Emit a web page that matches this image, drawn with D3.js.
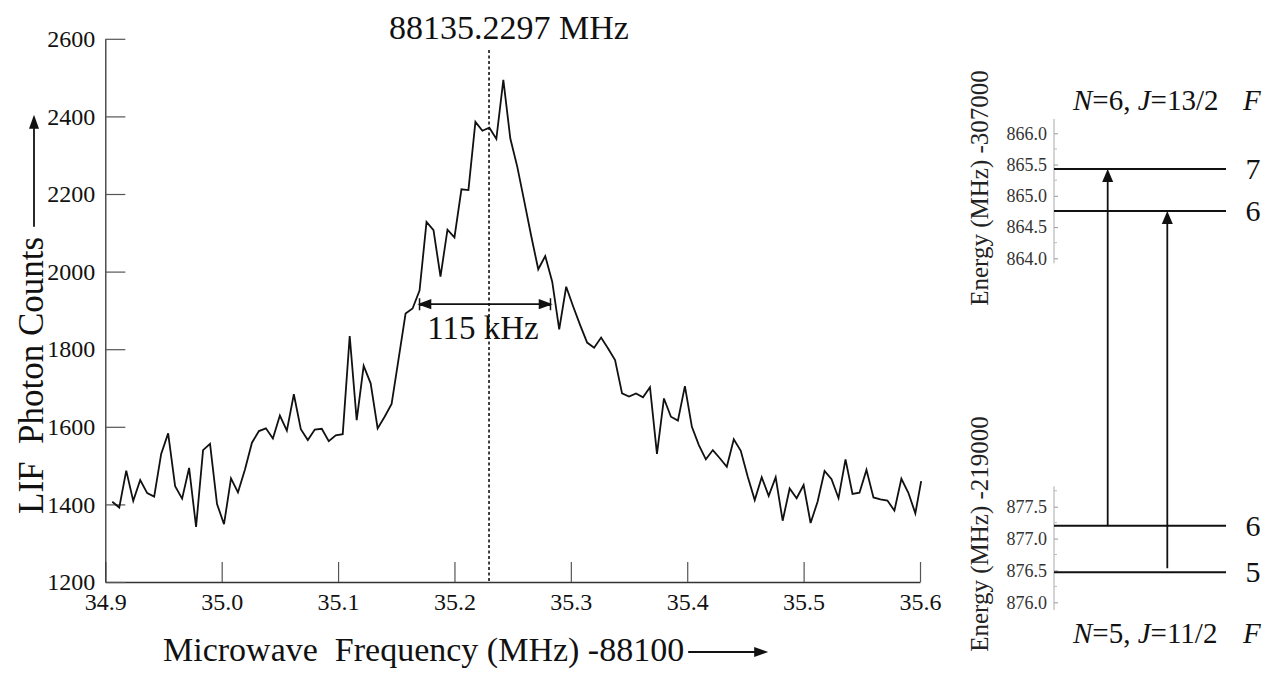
<!DOCTYPE html>
<html><head><meta charset="utf-8">
<script src="https://cdn.jsdelivr.net/npm/d3@7"></script>
<style>
html,body{margin:0;padding:0;background:#fff;}
svg{display:block;}
svg text{font-family:"Liberation Serif","Times New Roman",serif !important;}
</style></head>
<body>
<svg id="chart" width="1266" height="673"></svg>
<script>
// ---------- data ----------
const freq = [34.906,34.912,34.918,34.924,34.930,34.936,34.942,34.948,34.954,34.960,
34.966,34.972,34.978,34.984,34.990,34.996,35.002,35.008,35.014,35.020,
35.026,35.032,35.038,35.044,35.050,35.056,35.062,35.068,35.074,35.080,
35.086,35.092,35.098,35.104,35.110,35.116,35.122,35.128,35.134,35.140,
35.146,35.152,35.158,35.164,35.170,35.176,35.182,35.188,35.194,35.200,
35.206,35.212,35.218,35.224,35.230,35.236,35.242,35.248,35.254,35.260,
35.266,35.272,35.278,35.284,35.290,35.296,35.302,35.308,35.314,35.320,
35.326,35.332,35.338,35.344,35.350,35.356,35.362,35.368,35.374,35.380,
35.386,35.392,35.398,35.404,35.410,35.416,35.422,35.428,35.434,35.440,
35.446,35.452,35.458,35.464,35.470,35.476,35.482,35.488,35.494,35.500,
35.506,35.512,35.518,35.524,35.530,35.536,35.542,35.548,35.554,35.560,
35.566,35.572,35.578,35.584,35.590,35.596,35.601];
const counts = [1407,1392,1487,1409,1463,1429,1420,1530,1583,1447,
1415,1494,1342,1540,1556,1401,1349,1467,1431,1490,
1559,1589,1596,1570,1629,1590,1684,1594,1566,1593,
1595,1563,1578,1581,1834,1617,1757,1712,1596,1626,
1659,1775,1892,1905,1951,2128,2107,1987,2108,2088,
2212,2210,2386,2363,2371,2342,2494,2343,2270,2181,
2091,2006,2040,1974,1851,1961,1910,1862,1817,1804,
1830,1802,1772,1686,1678,1686,1676,1702,1530,1673,
1626,1616,1705,1600,1553,1516,1540,1519,1497,1568,
1538,1471,1411,1470,1422,1470,1358,1441,1416,1450,
1352,1407,1486,1465,1416,1516,1427,1430,1489,1418,
1413,1410,1384,1466,1430,1377,1460];
const xTicks = [34.9,35.0,35.1,35.2,35.3,35.4,35.5,35.6];
const yTicks = [1200,1400,1600,1800,2000,2200,2400,2600];
const centerFreq = 35.2297;
const centerLabel = "88135.2297 MHz";
const fwhm = [35.170, 35.2825];
const fwhmLevel = 1916;
const fwhmLabel = "115 kHz";

const upperTicks = [864.0,864.5,865.0,865.5,866.0];
const upperMinor = [864.25,864.75,865.25,865.75];
const upperLevels = [{F:"7",E:865.43},{F:"6",E:864.755}];
const lowerTicks = [876.0,876.5,877.0,877.5];
const lowerMinor = [876.25,876.75,877.25,877.75];
const lowerLevels = [{F:"6",E:877.20},{F:"5",E:876.47}];
const transitions = [{from:"6",to:"7"},{from:"5",to:"6"}];

// ---------- drawing ----------
const SERIF = '"Liberation Serif", "Times New Roman", serif';
const svg = d3.select("#chart");
const x = d3.scaleLinear([34.9,35.6],[105.3,920]);
const y = d3.scaleLinear([1200,2600],[582,38.8]);

// axes
const gx = svg.append("g").attr("transform",`translate(0,${y(1200)})`)
  .call(d3.axisBottom(x).tickValues(xTicks).tickFormat(d3.format(".1f"))
        .tickSizeInner(-20).tickSizeOuter(0).tickPadding(11));
const gy = svg.append("g").attr("transform",`translate(${x(34.9)},0)`)
  .call(d3.axisLeft(y).tickValues(yTicks).tickFormat(d3.format("d"))
        .tickSizeInner(-20).tickSizeOuter(0).tickPadding(10));
[gx,gy].forEach(g=>{
  g.attr("font-family",SERIF).attr("font-size",24);
  g.select(".domain").attr("stroke","#333").attr("stroke-width",1.3);
  g.selectAll(".tick line").attr("stroke","#555").attr("stroke-width",1.2);
  g.selectAll(".tick text").style("font-family",SERIF).style("font-size","24px").attr("fill","#111");
});

// data line
svg.append("path").datum(freq.map((f,i)=>[f,counts[i]]))
  .attr("fill","none").attr("stroke","#111").attr("stroke-width",1.8)
  .attr("stroke-linejoin","miter")
  .attr("d",d3.line().x(d=>x(d[0])).y(d=>y(d[1])));

// centre dashed line + label
svg.append("line").attr("x1",x(centerFreq)).attr("x2",x(centerFreq))
  .attr("y1",50).attr("y2",y(1200))
  .attr("stroke","#111").attr("stroke-width",1.6).attr("stroke-dasharray","3,2.5");
svg.append("text").attr("x",x(centerFreq)+20).attr("y",39)
  .attr("text-anchor","middle").attr("font-size",34).attr("fill","#111").text(centerLabel);

// FWHM arrow
const ay = y(fwhmLevel), xl = x(fwhm[0]), xr = x(fwhm[1]);
svg.append("line").attr("x1",xl).attr("x2",xr).attr("y1",ay).attr("y2",ay)
  .attr("stroke","#111").attr("stroke-width",1.8);
svg.append("path").attr("fill","#111").attr("stroke","#111").attr("stroke-width",1.5)
  .attr("d",`M${xl},${ay-6}V${ay+6}M${xl},${ay}L${xl+11},${ay-4}L${xl+11},${ay+4}Z
             M${xr},${ay-6}V${ay+6}M${xr},${ay}L${xr-11},${ay-4}L${xr-11},${ay+4}Z`);
svg.append("text").attr("x",(xl+xr)/2-2).attr("y",ay+35).attr("text-anchor","middle")
  .attr("font-size",33).attr("fill","#111").text(fwhmLabel);

// axis titles
const yTitleBottom = 514;
const yt = svg.append("text").attr("transform",`translate(43,${yTitleBottom}) rotate(-90)`)
  .attr("font-size",35).attr("fill","#111").attr("xml:space","preserve").text("LIF  Photon Counts");
const ytLen = yt.node().getComputedTextLength();
{
  const ax = 34, y0 = yTitleBottom-ytLen-10, y1 = y0-112;
  svg.append("line").attr("x1",ax).attr("x2",ax).attr("y1",y0).attr("y2",y1+10)
    .attr("stroke","#111").attr("stroke-width",1.8);
  svg.append("path").attr("fill","#111").attr("d",`M${ax},${y1}L${ax-5},${y1+14}L${ax+5},${y1+14}Z`);
}
const xt = svg.append("text").attr("x",163).attr("y",661)
  .attr("font-size",34).attr("fill","#111").attr("xml:space","preserve").text("Microwave  Frequency (MHz) -88100");
const xtLen = xt.node().getComputedTextLength();
{
  const ay2 = 652, x0 = 163+xtLen+4, x1 = x0+80;
  svg.append("line").attr("x1",x0).attr("x2",x1-10).attr("y1",ay2).attr("y2",ay2)
    .attr("stroke","#111").attr("stroke-width",1.8);
  svg.append("path").attr("fill","#111").attr("d",`M${x1},${ay2}L${x1-14},${ay2-5}L${x1-14},${ay2+5}Z`);
}

// ---------- energy level diagram ----------
const axX = 1054, lvlEnd = 1226;
const yU = d3.scaleLinear([864,866],[258.3,133.3]);
const yL = d3.scaleLinear([876,877.5],[602.3,506.7]);

function energyAxis(scale, ticks, minor, dom){
  const g = svg.append("g").attr("transform",`translate(${axX},0)`);
  g.call(d3.axisLeft(scale).tickValues(ticks).tickFormat(d3.format(".1f"))
     .tickSizeInner(-4).tickSizeOuter(0).tickPadding(7));
  g.attr("font-family",SERIF).attr("font-size",18);
  g.select(".domain").remove();
  g.append("line").attr("x1",0).attr("x2",0).attr("y1",scale(dom[0])).attr("y2",scale(dom[1]))
    .attr("stroke","#aaa").attr("stroke-width",1);
  g.selectAll(".tick line").attr("stroke","#999");
  g.selectAll(".tick text").style("font-family",SERIF).style("font-size","18px").attr("fill","#333");
  g.selectAll(".minor").data(minor).join("line").attr("class","minor")
    .attr("x1",0).attr("x2",3).attr("y1",d=>scale(d)).attr("y2",d=>scale(d))
    .attr("stroke","#bbb");
}
energyAxis(yU, upperTicks, upperMinor, [863.92,866.23]);
energyAxis(yL, lowerTicks, lowerMinor, [875.88,877.82]);

function levels(data, scale){
  svg.selectAll(null).data(data).join("line")
    .attr("x1",axX).attr("x2",lvlEnd).attr("y1",d=>scale(d.E)).attr("y2",d=>scale(d.E))
    .attr("stroke","#111").attr("stroke-width",2);
  svg.selectAll(null).data(data).join("text")
    .attr("x",1253).attr("y",d=>scale(d.E)+10).attr("text-anchor","middle")
    .attr("font-size",30).attr("fill","#111").text(d=>d.F);
}
levels(upperLevels, yU);
levels(lowerLevels, yL);

const trX = [1107.7, 1167.3];
transitions.forEach((t,i)=>{
  const y0 = yL(lowerLevels.find(l=>l.F===t.from).E);
  const y1 = yU(upperLevels.find(l=>l.F===t.to).E);
  const xx = trX[i];
  svg.append("line").attr("x1",xx).attr("x2",xx).attr("y1",i===1?y0-4:y0).attr("y2",y1+10)
    .attr("stroke","#111").attr("stroke-width",1.8);
  svg.append("path").attr("fill","#111")
    .attr("d",`M${xx},${y1}L${xx-5.5},${y1+13}L${xx+5.5},${y1+13}Z`);
});

// level headers
function header(yb, n, j){
  const t = svg.append("text").attr("x",1073).attr("y",yb).attr("font-size",29).attr("fill","#111");
  t.append("tspan").attr("font-style","italic").text("N");
  t.append("tspan").text("=" + n + ", ");
  t.append("tspan").attr("font-style","italic").text("J");
  t.append("tspan").text("=" + j);
  svg.append("text").attr("x",1243).attr("y",yb).attr("font-size",29)
    .attr("font-style","italic").attr("fill","#111").text("F");
}
header(110, "6", "13/2");
header(643, "5", "11/2");

// energy axis titles
svg.append("text").attr("transform","translate(988,188) rotate(-90)")
  .attr("text-anchor","middle").attr("font-size",25).attr("fill","#222").text("Energy (MHz) -307000");
svg.append("text").attr("transform","translate(988,534) rotate(-90)")
  .attr("text-anchor","middle").attr("font-size",25).attr("fill","#222").text("Energy (MHz) -219000");
</script>
</body></html>
